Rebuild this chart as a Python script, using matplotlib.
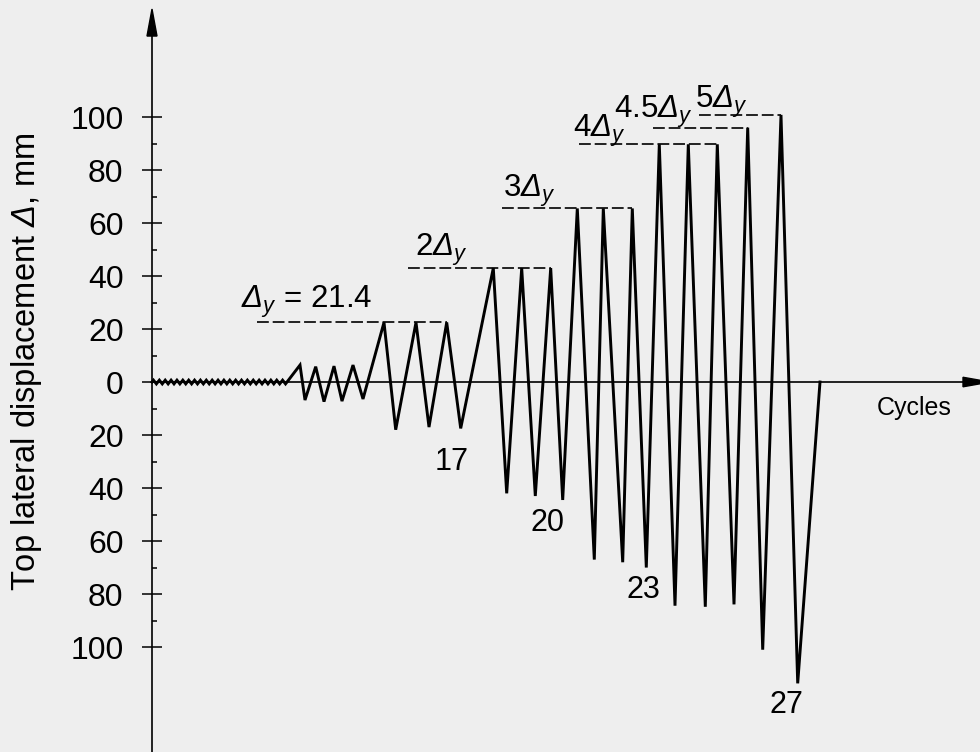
import numpy as np
import matplotlib
matplotlib.use('Agg')
import matplotlib.pyplot as plt
from matplotlib.patches import Polygon
from matplotlib.ticker import FixedLocator, FuncFormatter

plt.rcParams['font.family'] = ['Liberation Sans', 'DejaVu Sans']
plt.rcParams['mathtext.fontset'] = 'custom'
plt.rcParams['mathtext.rm'] = 'Liberation Sans:italic'
plt.rcParams['mathtext.it'] = 'Liberation Sans:italic'
plt.rcParams['lines.scale_dashes'] = False

# ---------------- data ----------------
# tiny initial cycles (amplitude, mm)
tiny_amp = [0.7, 0.7, 0.7, 0.7, 0.7, 0.7, 0.7, 0.7, 0.7, 0.7, 0.7, 0.7,
            0.7, 0.7, 0.7, 0.7, 0.7, 0.7, 0.7, 0.7, 0.7, 0.7, 0.7]
tiny_end_t = 13.5

# main turning points: time and displacement (mm)
turn_t = [13.5, 14.8, 15.3, 16.37, 17.2, 18.2, 19.0, 20.1, 21.1,
          23.2, 24.37, 26.4, 27.7, 29.47, 30.87,
          34.13, 35.47, 36.97, 38.33, 39.87, 41.07,
          42.53, 44.23, 45.13, 47.07, 48.03, 49.43,
          50.73, 52.3, 53.63, 55.33, 56.53, 58.2,
          59.57, 61.07, 62.9, 64.57, 66.8]
turn_d = [0, 6.4, -6.8, 5.8, -7.4, 6.0, -7.2, 6.4, -6.4,
          22.5, -18, 22.5, -17, 22.5, -17.5,
          43, -42, 43, -43, 43, -44.5,
          65.5, -67, 65.5, -68, 65.5, -70,
          89.7, -84.4, 89.7, -84.8, 89.7, -83.9,
          96, -101, 100.8, -113.7, 0]

level_names = [r'$\Delta_y$ = 21.4', r'2$\Delta_y$', r'3$\Delta_y$',
               r'4$\Delta_y$', r'4.5$\Delta_y$', r'5$\Delta_y$']
level_values = [22.5, 43, 65.5, 89.7, 96, 100.8]
level_start = [10.5, 25.6, 35.0, 42.7, 50.1, 54.7]
level_end = [29.47, 39.87, 48.03, 56.53, 59.57, 62.9]
level_label_x = [8.9, 26.3, 35.1, 42.1, 46.2, 54.3]
level_label_y = [27.8, 47.5, 69.7, 92.6, 99.5, 103.3]

cycle_labels = ['17', '20', '23', '27']
cycle_label_x = [30.0, 39.6, 49.1, 63.4]
cycle_label_y = [-30.2, -53.2, -78.5, -121.9]

yticks_major = [-100, -80, -60, -40, -20, 0, 20, 40, 60, 80, 100]
yticks_minor = [-90, -70, -50, -30, -10, 10, 30, 50, 70, 90]

# ---------------- build path ----------------
n = len(tiny_amp)
period = tiny_end_t / n
tx = [0.0]
ty = [0.0]
for i, a in enumerate(tiny_amp):
    tx += [i * period + period / 4, i * period + 3 * period / 4]
    ty += [a, -a]
t_all = tx + turn_t
d_all = ty + turn_d

# ---------------- figure ----------------
bg = '#eeeeee'
fig = plt.figure(figsize=(9.8, 7.52), dpi=100, facecolor=bg)
ax = fig.add_axes([0, 0, 1, 1], facecolor=bg)
xmin, xmax = -15.2, 82.8
ymin, ymax = -139.6, 144.15
ax.set_xlim(xmin, xmax)
ax.set_ylim(ymin, ymax)

ax.plot(t_all, d_all, color='black', lw=2.1, solid_joinstyle='miter', zorder=3)

for name, v, s, e, lx, ly in zip(level_names, level_values, level_start,
                                 level_end, level_label_x, level_label_y):
    ax.plot([s, e], [v, v], color='black', lw=1.2, linestyle=(0, (8.5, 2.8)), zorder=2)
    ax.text(lx, ly, name, fontsize=22.5, ha='left', va='baseline', color='black')

for lab, x, y in zip(cycle_labels, cycle_label_x, cycle_label_y):
    ax.text(x, y, lab, fontsize=22, ha='center', va='center', color='black')

ax.text(76.2, -9.8, 'Cycles', fontsize=18, ha='center', va='center', color='black')

# axes spines
for sp in ['top', 'right']:
    ax.spines[sp].set_visible(False)
ax.spines['left'].set_position(('data', 0))
ax.spines['bottom'].set_position(('data', 0))
y_tip = 140.75
x_tip = 83.8
ax.spines['left'].set_bounds(ymin, y_tip - 5)
ax.spines['bottom'].set_bounds(0, x_tip - 2)
for sp in ['left', 'bottom']:
    ax.spines[sp].set_linewidth(1.2)
    ax.spines[sp].set_zorder(4)

ax.set_xticks([])
ax.yaxis.set_major_locator(FixedLocator(yticks_major))
ax.yaxis.set_minor_locator(FixedLocator(yticks_minor))
ax.yaxis.set_major_formatter(FuncFormatter(lambda v, p: f'{abs(v):.0f}'))
ax.tick_params(axis='y', which='major', direction='inout', length=15, width=1.1,
               pad=13, labelsize=23)
ax.tick_params(axis='y', which='minor', direction='in', length=3.6, width=1.1)

# arrow heads
ax.add_patch(Polygon([[0, y_tip], [-0.5, y_tip - 10.2], [0.5, y_tip - 10.2]],
                     closed=True, color='black', zorder=5, clip_on=False))
ax.add_patch(Polygon([[x_tip, 0], [x_tip - 2.7, 1.8], [x_tip - 2.7, -1.8]],
                     closed=True, color='black', zorder=5, clip_on=False))

fig.text(27 / 980, 1 - 362 / 752, r'Top lateral displacement $\Delta$, mm',
         rotation=90, fontsize=23.5, ha='center', va='center')

fig.savefig('out.png', dpi=100, facecolor=bg)
